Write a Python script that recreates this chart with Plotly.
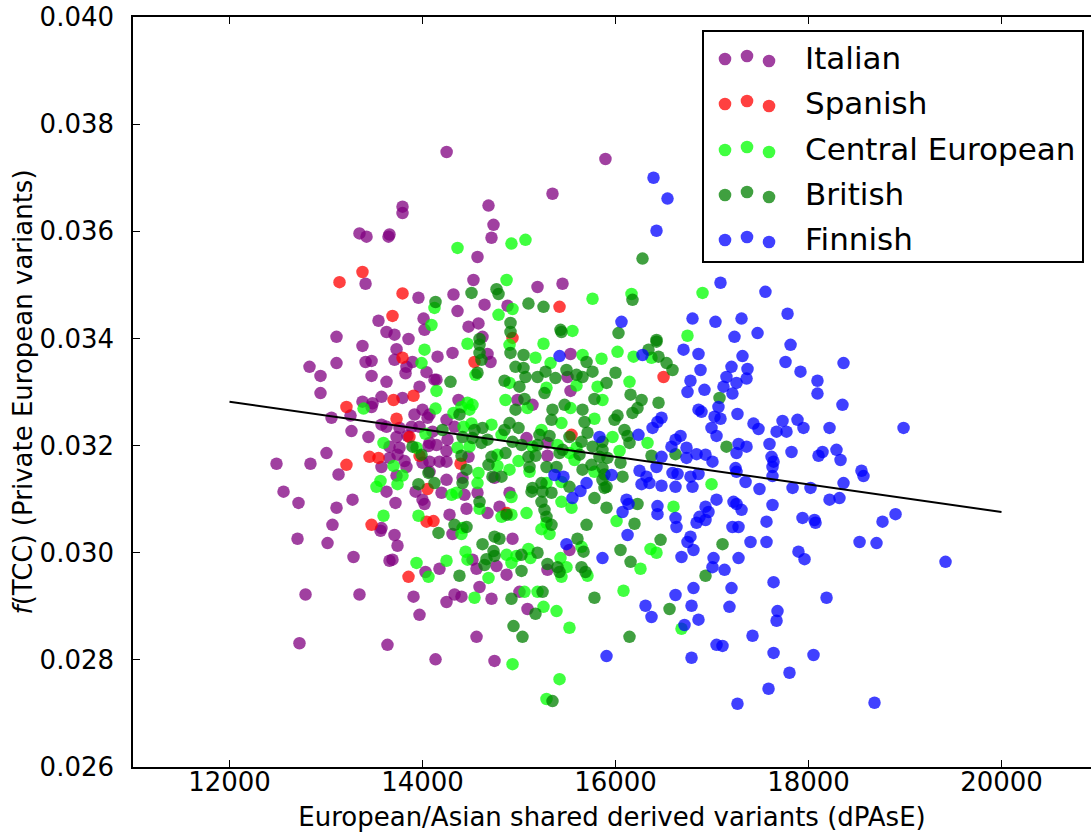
import plotly.graph_objects as go

# ---------------- data ----------------
italian_x = [14250, 13793, 13793, 13347, 13420, 13658, 13648, 13410, 13958, 13544, 14011, 13627, 13710, 13109, 13855, 14021,
             15896, 15347, 14684, 14736, 14715, 14570, 14528, 15192, 15451, 14321, 14643, 14881, 14363, 14477, 14580, 14622,
             13378, 13731, 12829, 13109, 13410, 13472, 13710, 13834, 13896, 12943, 13472, 13824, 13627, 14042, 14145, 12943,
             13575, 13793, 13969, 13482, 13378, 13472, 13254, 13057, 14000, 13917, 14052, 13575, 13627, 13762, 13886, 13969,
             13264, 13440, 13731, 13845, 14104, 13658, 13762, 14062, 13005, 13658, 13741, 13814, 14073, 12487, 12839, 13575,
             13834, 14000, 13130, 13731, 13928, 12560, 13627, 14000, 14021, 12715, 13275, 13109, 13720, 13067, 13575,
             14156, 14311, 14674, 14705, 15534, 14124, 15503, 15534, 14373, 14984, 15140, 14073, 14249, 14332, 14259, 14145,
             15078, 15295, 14073, 14249, 14477, 15295, 14176, 14249, 14073, 14249, 14415, 14746, 14197, 14435, 14570, 14902,
             14456, 14674, 14798, 14280,
             13565, 13710, 13741, 12705, 13016, 13285, 13658, 13689, 14031, 14176, 12788, 13347, 13907, 13969, 12725, 13637, 14135,
             14311, 14933, 15523, 14518, 14560, 14767, 15295, 14871, 14591, 14332, 14404, 14249, 14715, 15005, 15088, 14560, 14746]
italian_y = [0.03748, 0.03646, 0.03634, 0.03596, 0.03590, 0.03594, 0.03590, 0.03502, 0.03476, 0.03433, 0.03437, 0.03412, 0.03407, 0.03403, 0.03399, 0.03416,
             0.03735, 0.03670, 0.03648, 0.03612, 0.03588, 0.03552, 0.03509, 0.03496, 0.03502, 0.03482, 0.03463, 0.03461, 0.03451, 0.03422, 0.03428, 0.03403,
             0.03386, 0.03380, 0.03347, 0.03354, 0.03356, 0.03358, 0.03360, 0.03347, 0.03356, 0.03330, 0.03330, 0.03335, 0.03319, 0.03337, 0.03323, 0.03298,
             0.03291, 0.03289, 0.03310, 0.03279, 0.03282, 0.03272, 0.03256, 0.03252, 0.03267, 0.03258, 0.03252, 0.03239, 0.03235, 0.03233, 0.03235, 0.03235,
             0.03227, 0.03216, 0.03216, 0.03218, 0.03226, 0.03198, 0.03196, 0.03199, 0.03186, 0.03177, 0.03183, 0.03171, 0.03170, 0.03166, 0.03166, 0.03160,
             0.03160, 0.03168, 0.03146, 0.03144, 0.03114, 0.03114, 0.03114, 0.03099, 0.03091, 0.03093, 0.03099, 0.03084, 0.03093, 0.03052, 0.03046,
             0.03366, 0.03373, 0.03371, 0.03356, 0.03371, 0.03323, 0.03328, 0.03302, 0.03285, 0.03285, 0.03276, 0.03258, 0.03248, 0.03235, 0.03211, 0.03201,
             0.03214, 0.03205, 0.03205, 0.03190, 0.03179, 0.03181, 0.03170, 0.03170, 0.03151, 0.03136, 0.03140, 0.03140, 0.03112, 0.03108, 0.03112, 0.03112,
             0.03082, 0.03074, 0.03086, 0.03071,
             0.03041, 0.03033, 0.03013, 0.03026, 0.03018, 0.02992, 0.02985, 0.02987, 0.02964, 0.02970, 0.02922, 0.02922, 0.02918, 0.02884, 0.02831, 0.02828, 0.02801,
             0.03035, 0.03026, 0.03005, 0.02987, 0.02970, 0.02975, 0.02968, 0.02959, 0.02936, 0.02922, 0.02918, 0.02908, 0.02914, 0.02927, 0.02895, 0.02843, 0.02798]

spanish_x = [13378, 13140, 13793, 13689, 15420, 14933, 14539, 13793, 13700, 13907, 13212, 13731, 13865, 13451, 13544, 13969,
             13212, 14052, 14042, 14114, 13472, 14394, 14871, 13855, 15544, 16498]
spanish_y = [0.03524, 0.03505, 0.03484, 0.03442, 0.03459, 0.03401, 0.03356, 0.03364, 0.03285, 0.03293, 0.03272, 0.03250, 0.03216, 0.03179, 0.03177, 0.03181,
             0.03164, 0.03119, 0.03058, 0.03059, 0.03052, 0.03166, 0.03074, 0.02955, 0.03220, 0.03328]

central_x = [14124, 14093, 14363, 14922, 15067, 14871, 14933, 15762, 14788, 15554, 16166, 16902, 16746, 14021, 13990, 14145,
             13389, 14135, 14031, 13596, 13938, 13700, 13793, 13565, 13523, 13741, 13596, 13958, 14902, 14466, 15254, 15171,
             15327, 15658, 15855, 14549, 14902, 15285, 15814, 15596, 14466, 14860, 15088, 15865, 14321, 14404, 14518, 14487,
             15534, 15782, 15440, 14425, 14508, 14715, 14819, 15233, 14487, 15140, 15399, 15596, 15523, 14363, 14777, 14995,
             15575, 14580, 14777, 14902, 15109, 15782, 14570, 15285, 15440, 14301, 14352, 14922, 15440, 14591, 14819, 14922,
             15078, 15544, 15285, 16021, 16187, 16373, 16145, 15969, 16332, 16042, 16995, 16601, 16011, 13938, 14062, 14415,
             14404, 15233, 15316, 15648, 14446, 14466, 14871, 14922, 14974, 15098, 15119, 15430, 15492, 15440, 15710, 14249,
             14684, 14539, 15057, 15192, 15254, 15389, 15523, 14933, 15420, 15285, 16363, 16425, 16259, 16083, 16684]
central_y = [0.03457, 0.03425, 0.03569, 0.03577, 0.03584, 0.03509, 0.03455, 0.03474, 0.03444, 0.03414, 0.03483, 0.03485, 0.03405, 0.03379, 0.03354, 0.03302,
             0.03269, 0.03269, 0.03222, 0.03205, 0.03196, 0.03162, 0.03144, 0.03134, 0.03123, 0.03128, 0.03069, 0.03069, 0.03388, 0.03390, 0.03390, 0.03364,
             0.03354, 0.03369, 0.03362, 0.03332, 0.03317, 0.03308, 0.03310, 0.03312, 0.03280, 0.03285, 0.03270, 0.03285, 0.03261, 0.03272, 0.03276, 0.03267,
             0.03270, 0.03250, 0.03242, 0.03235, 0.03241, 0.03239, 0.03220, 0.03229, 0.03198, 0.03198, 0.03201, 0.03196, 0.03186, 0.03196, 0.03183, 0.03171,
             0.03173, 0.03149, 0.03162, 0.03155, 0.03151, 0.03151, 0.03130, 0.03130, 0.03132, 0.03108, 0.03112, 0.03104, 0.03095, 0.03082, 0.03067, 0.03071,
             0.03074, 0.03084, 0.03056, 0.03375, 0.03366, 0.03364, 0.03319, 0.03216, 0.03205, 0.03190, 0.03128, 0.03086, 0.03059, 0.02981, 0.02955, 0.03046,
             0.03035, 0.03044, 0.03035, 0.03011, 0.03002, 0.02987, 0.02996, 0.02981, 0.02994, 0.03007, 0.02990, 0.02990, 0.02973, 0.02955, 0.02957, 0.02985,
             0.02953, 0.02916, 0.02927, 0.02927, 0.02899, 0.02891, 0.02860, 0.02792, 0.02764, 0.02727, 0.03007, 0.03000, 0.02970, 0.02929, 0.02858]

british_x = [14135, 14767, 14788, 14508, 15098, 15254, 14912, 14912, 14591, 15430, 16280, 16176, 16031, 16425, 13896, 13990,
             14062, 13958, 14124, 14591, 15440, 14591, 14611, 14912, 15047, 15700, 14570, 14290, 14850, 14964, 15047, 15005,
             15067, 15192, 15275, 15378, 15492, 15596, 15658, 15762, 15907, 15264, 15057, 15782, 14383, 14964, 15347, 15337,
             15472, 15658, 15679, 14207, 14539, 14622, 14902, 14850, 14995, 15316, 15212, 15523, 15648, 15710, 14415, 14518,
             14611, 14674, 14933, 15026, 15192, 15451, 15627, 15762, 15865, 14404, 14715, 14860, 15098, 15171, 15420, 15751,
             15834, 14456, 14684, 14819, 15109, 15285, 15389, 15658, 15865, 14415, 14725, 15233, 15140, 15244, 15337, 15523,
             15865, 15886, 14591, 15130, 15233, 15782, 15907, 14871, 15264, 15285, 14332, 14456, 15337, 15700, 16342, 16425,
             16446, 16529, 16591, 16000, 16156, 16270, 16446, 17078, 16228, 16176, 16021, 15990, 16093, 16125, 16145, 15865,
             16622, 17150, 15917, 16052, 16373, 15886, 15907, 16073, 16228, 16197, 14166, 14622, 14746, 14798, 15606, 15669,
             14663, 14643, 14736, 14746, 15026, 15192, 15295, 15399, 15420, 15648, 15689, 14383, 15026, 14922, 15244, 15782,
             15171, 14943, 15036, 15347, 16467, 17109, 16052, 16156, 16933, 16560, 16145]
british_y = [0.03468, 0.03492, 0.03483, 0.03485, 0.03465, 0.03459, 0.03429, 0.03412, 0.03399, 0.03416, 0.03549, 0.03472, 0.03410, 0.03397, 0.03198, 0.03183,
             0.03149, 0.03128, 0.03130, 0.03388, 0.03412, 0.03373, 0.03360, 0.03373, 0.03369, 0.03356, 0.03336, 0.03319, 0.03321, 0.03347, 0.03345, 0.03310,
             0.03328, 0.03328, 0.03338, 0.03326, 0.03341, 0.03332, 0.03328, 0.03338, 0.03317, 0.03298, 0.03287, 0.03287, 0.03258, 0.03267, 0.03267, 0.03248,
             0.03276, 0.03267, 0.03244, 0.03229, 0.03229, 0.03233, 0.03242, 0.03229, 0.03233, 0.03218, 0.03220, 0.03216, 0.03207, 0.03224, 0.03216, 0.03214,
             0.03205, 0.03211, 0.03207, 0.03201, 0.03201, 0.03192, 0.03183, 0.03198, 0.03192, 0.03181, 0.03179, 0.03186, 0.03179, 0.03181, 0.03186, 0.03164,
             0.03179, 0.03155, 0.03164, 0.03142, 0.03160, 0.03160, 0.03160, 0.03155, 0.03158, 0.03130, 0.03142, 0.03130, 0.03121, 0.03114, 0.03112, 0.03123,
             0.03136, 0.03121, 0.03095, 0.03114, 0.03095, 0.03102, 0.03084, 0.03071, 0.03080, 0.03067, 0.03052, 0.03048, 0.03052, 0.03052, 0.03379, 0.03394,
             0.03366, 0.03354, 0.03341, 0.03336, 0.03295, 0.03285, 0.03280, 0.03289, 0.03270, 0.03261, 0.03256, 0.03248, 0.03229, 0.03218, 0.03205, 0.03207,
             0.03184, 0.03198, 0.03177, 0.03168, 0.03181, 0.03146, 0.03123, 0.03142, 0.03091, 0.03054, 0.03037, 0.03016, 0.03030, 0.03026, 0.03026, 0.03002,
             0.02988, 0.02977, 0.03003, 0.02994, 0.02996, 0.03000, 0.02979, 0.02973, 0.02964, 0.02973, 0.02964, 0.02957, 0.02966, 0.02914, 0.02927, 0.02916,
             0.02886, 0.02863, 0.02843, 0.02723, 0.03024, 0.03016, 0.03005, 0.02983, 0.02957, 0.02895, 0.02843]

finnish_x = [16394, 16539, 16425, 17088, 17554, 16062, 16798, 17036, 17306, 17233, 17472, 17783, 17814, 17762, 17917, 18093,
             18093, 18363, 18352, 17731, 17886, 17669, 17772, 17948, 18218, 18985, 17596, 17824, 18104, 18145, 18290, 18332,
             17617, 17638, 17627, 17627, 18549, 18570, 17835, 18021, 18363, 18218, 18321, 17627, 17938, 18062, 18073, 18767,
             18902, 17565, 18529, 18705, 19420, 17896, 17959, 17565, 17638, 18187, 17679, 17669, 17638, 18052, 17803, 17586,
             18684, 16632, 16840, 16933, 17212, 17275, 16125, 16777, 16746, 16808, 17399, 15865, 16684, 17016, 17275, 17005,
             17130, 16622, 16808, 17202, 16311, 16373, 16788, 17181, 16715, 16860, 17420, 17047, 17109, 15907, 16788, 17264,
             16280, 16705, 16860, 17316, 17202, 17150, 17368, 17358, 17254, 17119, 16881, 16777, 16746, 16922, 17212, 16860,
             16891, 17067, 17026, 17088, 17264, 16477, 16435, 16384, 17430, 17482, 16995, 17047, 16238, 15834, 16674, 16622,
             16580, 16736, 16840, 16933, 17005, 16736, 17275, 17358, 17254, 16477, 16425, 17244, 17254, 16249, 16321, 16352,
             16270, 16477, 16591, 16643, 16622, 16777, 16860, 16798, 15959, 17348, 17492, 16114, 16135, 16073, 16435, 16435,
             17047, 16933, 16964, 16871, 17223, 17254, 17306, 16622, 15420, 15368, 15461, 15700, 15637, 15554, 15492]
finnish_y = [0.03700, 0.03661, 0.03601, 0.03504, 0.03487, 0.03431, 0.03437, 0.03431, 0.03437, 0.03403, 0.03410, 0.03446, 0.03388, 0.03356, 0.03338, 0.03321,
             0.03297, 0.03354, 0.03276, 0.03246, 0.03248, 0.03226, 0.03226, 0.03233, 0.03233, 0.03233, 0.03203, 0.03188, 0.03181, 0.03188, 0.03192, 0.03173,
             0.03179, 0.03170, 0.03160, 0.03143, 0.03153, 0.03143, 0.03121, 0.03121, 0.03130, 0.03099, 0.03102, 0.03089, 0.03065, 0.03061, 0.03056, 0.03058,
             0.03072, 0.03058, 0.03020, 0.03018, 0.02983, 0.03002, 0.02988, 0.03020, 0.02945, 0.02916, 0.02891, 0.02873, 0.02813, 0.02809, 0.02776, 0.02746,
             0.02720, 0.03048, 0.03056, 0.03061, 0.03048, 0.03048, 0.03033, 0.03030, 0.03020, 0.03005, 0.03020, 0.02990, 0.02992, 0.02990, 0.02990, 0.02973,
             0.02968, 0.02921, 0.02934, 0.02934, 0.02901, 0.02880, 0.02901, 0.02899, 0.02865, 0.02875, 0.02845, 0.02828, 0.02826, 0.02807, 0.02804, 0.02718,
             0.03369, 0.03379, 0.03371, 0.03367, 0.03347, 0.03328, 0.03343, 0.03325, 0.03317, 0.03310, 0.03341, 0.03321, 0.03300, 0.03304, 0.03297, 0.03267,
             0.03263, 0.03272, 0.03254, 0.03250, 0.03259, 0.03252, 0.03244, 0.03233, 0.03241, 0.03231, 0.03233, 0.03218, 0.03220, 0.03216, 0.03218, 0.03211,
             0.03198, 0.03196, 0.03184, 0.03183, 0.03170, 0.03177, 0.03203, 0.03198, 0.03186, 0.03179, 0.03160, 0.03158, 0.03151, 0.03153, 0.03142, 0.03130,
             0.03128, 0.03125, 0.03149, 0.03147, 0.03123, 0.03142, 0.03147, 0.03123, 0.03145, 0.03132, 0.03119, 0.03099, 0.03091, 0.03076, 0.03087, 0.03072,
             0.03099, 0.03086, 0.03076, 0.03067, 0.03095, 0.03091, 0.03080, 0.03065, 0.03367, 0.03145, 0.03142, 0.03130, 0.03115, 0.03102, 0.03016]

# regression line end points
fit_x = [12000, 20000]
fit_y = [0.03282, 0.03076]

group_names = ["Italian", "Spanish", "Central European", "British", "Finnish"]
group_colors = ["rgba(128,0,128,0.75)", "rgba(255,0,0,0.75)", "rgba(0,255,0,0.75)",
                "rgba(0,128,0,0.75)", "rgba(0,0,255,0.75)"]
x_ticks = [12000, 14000, 16000, 18000, 20000]
y_ticks = [0.026, 0.028, 0.030, 0.032, 0.034, 0.036, 0.038, 0.040]

# ---------------- figure ----------------
W, H = 1091, 832
ML, MR, MT, MB = 133, 0, 17, 65
PW, PH = W - ML - MR, H - MT - MB
FONT = "DejaVu Sans"
FS = 26

fig = go.Figure()
series = [(italian_x, italian_y), (spanish_x, spanish_y), (central_x, central_y),
          (british_x, british_y), (finnish_x, finnish_y)]
for (xs, ys), name, col in zip(series, group_names, group_colors):
    fig.add_trace(go.Scatter(x=xs, y=ys, mode="markers", name=name, showlegend=False,
                             marker=dict(size=12.5, color=col, line=dict(width=0))))

fig.add_trace(go.Scatter(x=fit_x, y=fit_y, mode="lines", showlegend=False,
                         line=dict(color="black", width=2)))

# x range: 2000 units = 193 px, left edge at 11000
px_per_unit = 193 / 2000
x_max = 11000 + PW / px_per_unit

fig.update_layout(
    width=W, height=H,
    margin=dict(l=ML, r=MR, t=MT, b=MB, pad=0),
    plot_bgcolor="white", paper_bgcolor="white",
    font=dict(family=FONT, color="black", size=FS),
    showlegend=False,
    xaxis=dict(range=[11000, x_max], tickvals=x_ticks, tickformat="d", ticks="inside", ticklen=7,
               tickwidth=1, tickcolor="black", showline=True, linecolor="black", linewidth=1.5,
               mirror="ticks", showgrid=False, zeroline=False, automargin=False,
               tickfont=dict(size=FS, family=FONT), ticklabelstandoff=-9,
               title=dict(text="European/Asian shared derived variants (dPAsE)",
                          font=dict(size=FS, family=FONT), standoff=12)),
    yaxis=dict(range=[0.026, 0.040], tickvals=y_ticks, tickformat=".3f", ticks="inside", ticklen=7,
               tickwidth=1, tickcolor="black", showline=True, linecolor="black", linewidth=1.5,
               showgrid=False, zeroline=False, automargin=False, tickfont=dict(size=FS, family=FONT),
               ticklabelstandoff=12,
               title=dict(text="<i>f</i>(TCC) (Private European variants)",
                          font=dict(size=FS, family=FONT), standoff=0)),
)


def px2paper(px, py):
    return (px - ML) / PW, (H - MB - py) / PH


# custom legend (box, three markers per entry, labels)
bx0, by0 = px2paper(703, 262)
bx1, by1 = px2paper(1083, 31)
shapes = [dict(type="rect", xref="paper", yref="paper", x0=bx0, y0=by0, x1=bx1, y1=by1,
               fillcolor="white", line=dict(color="black", width=2), layer="above")]
annotations = []
row_y = [59, 104, 150, 195, 240]
dot_x = [725, 747, 769]
dot_dy = [0, -3, 2]
for name, col, ry in zip(group_names, group_colors, row_y):
    for dx, dy in zip(dot_x, dot_dy):
        ax, ay = px2paper(dx, ry + dy)
        shapes.append(dict(type="circle", xref="paper", yref="paper", xsizemode="pixel",
                           ysizemode="pixel", xanchor=ax, yanchor=ay, x0=-6.3, x1=6.3,
                           y0=-6.3, y1=6.3, fillcolor=col, line=dict(width=0), layer="above"))
    tx, ty = px2paper(803, ry - 1)
    annotations.append(dict(text=name, xref="paper", yref="paper", x=tx, y=ty, xanchor="left",
                            yanchor="middle", showarrow=False,
                            font=dict(size=31, family=FONT, color="black")))

fig.update_layout(shapes=shapes, annotations=annotations)

fig.write_html("out.html")
